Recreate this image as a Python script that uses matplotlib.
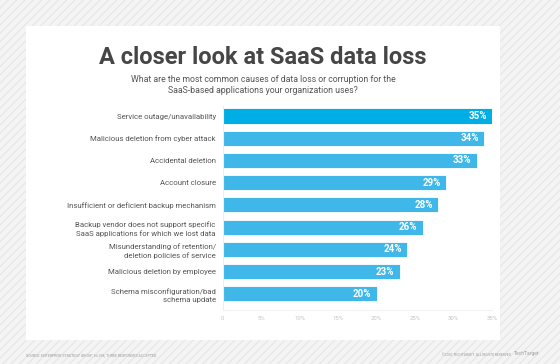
import matplotlib
matplotlib.use("Agg")
import matplotlib.pyplot as plt
from matplotlib.patches import Rectangle

# data
causes = [
    "Service outage/unavailability",
    "Malicious deletion from cyber attack",
    "Accidental deletion",
    "Account closure",
    "Insufficient or deficient backup mechanism",
    "Backup vendor does not support specific\nSaaS applications for which we lost data",
    "Misunderstanding of retention/\ndeletion policies of service",
    "Malicious deletion by employee",
    "Schema misconfiguration/bad\nschema update",
]
shares = [35, 34, 33, 29, 28, 26, 24, 23, 20]
tick_values = [0, 5, 10, 15, 20, 25, 30, 35]
tick_labels = ["0", "5%", "10%", "15%", "20%", "25%", "30%", "35%"]

W, H = 560, 364
fig = plt.figure(figsize=(W / 100, H / 100), dpi=100)
fig.patch.set_facecolor("#f3f3f3")

def px(x, y, w, h):
    # pixel box (top-left origin) -> figure fraction
    return [x / W, 1 - (y + h) / H, w / W, h / H]

# hatched backdrop and white panel
fig.patches.append(Rectangle((0, 0), 1, 1, transform=fig.transFigure,
                             facecolor="#f4f4f4", edgecolor="#e8e8e8",
                             hatch="////", linewidth=0, zorder=0))
b = px(26, 26, 474, 314)
fig.patches.append(Rectangle((b[0], b[1]), b[2], b[3], transform=fig.transFigure,
                             facecolor="white", edgecolor="none", zorder=1))

fig.text(263 / W, 1 - 57 / H, "A closer look at SaaS data loss", ha="center", va="center",
         fontsize=17, fontweight="bold", color="#464646", family="Roboto")
fig.text(263 / W, 1 - 85 / H,
         "What are the most common causes of data loss or corruption for the\n"
         "SaaS-based applications your organization uses?",
         ha="center", va="center", fontsize=6.3, color="#555555", family="Roboto",
         linespacing=1.35)

ax = fig.add_axes(px(222.7, 106, 269.3, 204))
ax.set_facecolor("none")
ax.set_zorder(2)

colors = ["#00aee6"] + ["#3fb7e8"] * (len(shares) - 1)
y = list(range(len(shares)))
ax.barh(y, shares, height=0.68, color=colors, edgecolor="#ffffff", linewidth=0.6)
for yi, v in zip(y, shares):
    ax.text(v - 0.7, yi, f"{v}%", ha="right", va="center", color="white",
            fontsize=7, fontweight="bold", family="Roboto")

ax.set_xlim(0, 35)
ax.set_ylim(8.73, -0.45)
ax.set_yticks(y)
ax.set_yticklabels(causes, fontsize=5.6, color="#555555", family="Roboto",
                   linespacing=1.45)
ax.set_xticks(tick_values)
ax.set_xticklabels(tick_labels, fontsize=4.3, color="#c4c4c4", family="Roboto")
ax.tick_params(length=0, pad=4)
ax.tick_params(axis="y", pad=5)
for s in ["top", "right"]:
    ax.spines[s].set_visible(False)
ax.spines["left"].set_color("#eeeeee")
ax.spines["bottom"].set_color("#f2f2f2")
ax.spines["left"].set_linewidth(0.8)
ax.spines["bottom"].set_linewidth(0.8)

fig.text(26 / W, 1 - 355 / H,
         "SOURCE: ENTERPRISE STRATEGY GROUP, N=396, THREE RESPONSES ACCEPTED",
         ha="left", va="center", fontsize=2.6, color="#9a9a9a", family="Roboto")
fig.text(511 / W, 1 - 355 / H, "\u00a92020 TECHTARGET. ALL RIGHTS RESERVED",
         ha="right", va="center", fontsize=2.4, color="#9a9a9a", family="Roboto")
fig.text(514 / W, 1 - 354 / H, "TechTarget", ha="left", va="center",
         fontsize=3.6, color="#a0a0a0", family="Roboto")

fig.savefig("out.png", dpi=100, facecolor=fig.get_facecolor())
